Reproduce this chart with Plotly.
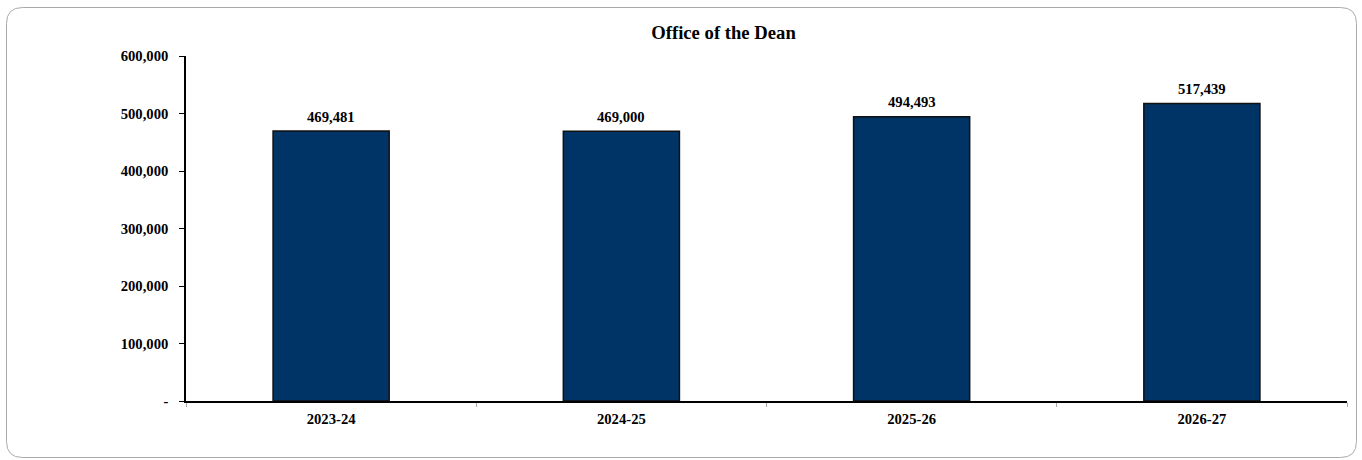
import plotly.graph_objects as go

categories = ["2023-24", "2024-25", "2025-26", "2026-27"]
values = [469481, 469000, 494493, 517439]
y_ticks = [0, 100000, 200000, 300000, 400000, 500000, 600000]
y_tick_labels = ["-", "100,000", "200,000", "300,000", "400,000", "500,000", "600,000"]

W, H = 1362, 460
ML, MR, MT, MB = 186, 15, 56, 59
pw, ph = W - ML - MR, H - MT - MB

def px(x):
    return (x - ML) / pw

def py(y):
    return (H - MB - y) / ph

font = "Liberation Serif, Times New Roman, serif"

fig = go.Figure(go.Bar(
    x=categories, y=values,
    marker=dict(color="#003366", line=dict(color="#111111", width=1.5)),
    cliponaxis=False, width=0.4, hoverinfo="x+y",
))

for c, v in zip(categories, values):
    fig.add_annotation(x=c, y=v, text=f"<b>{v:,}</b>", showarrow=False,
                       yanchor="middle", yshift=14.5,
                       font=dict(family=font, size=14.67, color="#000000"))

# rounded border
x0, y0, x1, y1, r = 6.5, 7.5, 1356.5, 457.5, 16
path = (f"M {px(x0+r)},{py(y0)} L {px(x1-r)},{py(y0)} "
        f"Q {px(x1)},{py(y0)} {px(x1)},{py(y0+r)} L {px(x1)},{py(y1-r)} "
        f"Q {px(x1)},{py(y1)} {px(x1-r)},{py(y1)} L {px(x0+r)},{py(y1)} "
        f"Q {px(x0)},{py(y1)} {px(x0)},{py(y1-r)} L {px(x0)},{py(y0+r)} "
        f"Q {px(x0)},{py(y0)} {px(x0+r)},{py(y0)} Z")

fig.update_layout(
    width=W, height=H,
    margin=dict(l=ML, r=MR, t=MT, b=MB),
    paper_bgcolor="white", plot_bgcolor="white",
    showlegend=False,
    title=dict(text="<b>Office of the Dean</b>", x=723.5 / W, xanchor="center",
               y=1 - 32/H, yanchor="middle",
               font=dict(family=font, size=18.67, color="#000000")),
    font=dict(family=font, size=14.67, color="#000000"),
    xaxis=dict(showline=True, linecolor="#000000", linewidth=1.5,
               ticks="outside", tickson="boundaries", ticklen=4, tickcolor="#aaaaaa",
               tickfont=dict(family=font, size=14.67, color="#000000"),
               ticklabelstandoff=4,
               tickprefix="<b>", ticksuffix="</b>", showgrid=False),
    yaxis=dict(range=[0, 600000], showline=True, linecolor="#000000", linewidth=1.5,
               ticks="outside", ticklen=5, tickcolor="#000000",
               tickvals=y_ticks, ticktext=[f"<b>{t}</b>" for t in y_tick_labels],
               tickfont=dict(family=font, size=14.67, color="#000000"),
               ticklabelstandoff=8,
               showgrid=False, zeroline=False),
    shapes=[dict(type="path", xref="paper", yref="paper", path=path,
                 line=dict(color="#aaaaaa", width=1), fillcolor="rgba(0,0,0,0)", layer="below")],
)

fig.write_html("out.html", config={"displayModeBar": False},
               post_script="document.body.style.margin='0';")
